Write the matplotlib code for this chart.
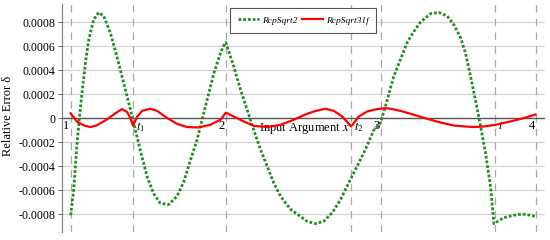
#Relative error of reciprocal square root approximations
import matplotlib
matplotlib.use("Agg")
import matplotlib.pyplot as plt

plt.rcParams['font.family'] = ['Liberation Serif', 'DejaVu Serif']
plt.rcParams['mathtext.fontset'] = 'stix'

#datos
green_x = [1.000, 1.019, 1.041, 1.056, 1.073, 1.095, 1.116, 1.148, 1.180, 1.213, 1.256, 1.299,
           1.342, 1.385, 1.406, 1.449, 1.493, 1.535, 1.578, 1.632, 1.686, 1.729, 1.772, 1.815,
           1.847, 1.879, 1.922, 1.965, 1.985, 2.000, 2.051, 2.094, 2.137, 2.180, 2.223, 2.266,
           2.309, 2.352, 2.417, 2.481, 2.524, 2.578, 2.631, 2.685, 2.739, 2.792, 2.847, 2.900,
           2.954, 2.997, 3.040, 3.083, 3.126, 3.169, 3.211, 3.255, 3.319, 3.373, 3.427, 3.469,
           3.513, 3.545, 3.577, 3.609, 3.642, 3.674, 3.706, 3.728, 3.792, 3.856, 3.910, 3.964,
           3.996]
green_y = [-8.1, -6.0, -2.1, 0.0, 2.1, 4.6, 6.5, 8.2, 8.8, 8.5, 7.1, 5.1,
           2.9, 0.7, -0.4, -2.7, -4.9, -6.3, -7.1, -7.2, -6.5, -5.3, -3.5, -1.8,
           -0.1, 1.5, 3.7, 5.4, 6.0, 6.3, 4.3, 2.4, 0.7, -1.0, -2.6, -4.0,
           -5.4, -6.5, -7.6, -8.2, -8.6, -8.8, -8.6, -7.9, -6.8, -5.4, -4.0, -2.6,
           -1.0, -0.4, 1.5, 3.5, 4.9, 6.3, 7.2, 8.0, 8.7, 8.8, 8.5, 7.8,
           6.7, 5.4, 3.5, 1.5, -0.7, -2.9, -5.7, -8.8, -8.3, -8.1, -8.0, -8.1,
           -8.2]
red_x = [1.000, 1.041, 1.084, 1.127, 1.170, 1.235, 1.288, 1.331, 1.364, 1.385, 1.402, 1.428,
         1.460, 1.514, 1.557, 1.622, 1.686, 1.750, 1.825, 1.900, 1.965, 2.000, 2.051, 2.115,
         2.180, 2.266, 2.352, 2.438, 2.513, 2.567, 2.642, 2.696, 2.750, 2.808, 2.857, 2.911,
         2.976, 3.029, 3.061, 3.126, 3.211, 3.298, 3.384, 3.469, 3.545, 3.598, 3.663, 3.738,
         3.835, 3.921, 3.996]
red_y = [4.0, -3.0, -6.0, -7.5, -6.0, -1.0, 4.0, 7.5, 5.0, 0.0, -6.5, 1.0,
         6.0, 7.8, 6.0, 0.0, -4.8, -7.5, -7.8, -5.6, -1.4, 4.5, 1.3, -2.8,
         -6.4, -7.5, -5.6, -1.4, 3.0, 5.5, 7.8, 6.0, 1.3, -7.0, 1.3, 5.5,
         7.5, 8.3, 7.8, 6.0, 2.8, -0.6, -3.7, -6.2, -7.0, -7.5, -7.0, -5.6,
         -2.8, 0.0, 3.0]
green_y = [v * 1e-4 for v in green_y]
red_y = [v * 1e-5 for v in red_y]

num_ticks = [1, 2, 3, 4]
t_pos = [1.402, 2.808, 3.736]
t_labels = ['$t_1$', '$t_2$', '$t$']
y_ticks = [-0.0008, -0.0006, -0.0004, -0.0002, 0, 0.0002, 0.0004, 0.0006, 0.0008]
y_labels = ['-0.0008', '-0.0006', '-0.0004', '-0.0002', '0', '0.0002', '0.0004', '0.0006', '0.0008']

fig = plt.figure(figsize=(5.5, 2.4), dpi=100)
ax = fig.add_axes([0.113, 0.033, 0.877, 0.95])

#grilla y lineas verticales
for v in y_ticks:
    if v != 0:
        ax.axhline(v, color='#cfcfcf', lw=0.8, zorder=0)
ax.axhline(0, color='#555555', lw=1.0, zorder=1)
for v in num_ticks + t_pos:
    ax.axvline(v, color='#a8a8a8', lw=0.9, ls=(0, (6, 5)), zorder=0)

#graficar
ax.plot(green_x, green_y, color='#1f8f1f', lw=2.0, ls=(0, (1, 0.7)), label='RcpSqrt2', zorder=3)
ax.plot(red_x, red_y, color='#ff0000', lw=1.6, label='RcpSqrt31f', zorder=4)

ax.set_xlim(0.945, 4.054)
ax.set_ylim(-0.00095, 0.00095)
ax.set_yticks(y_ticks)
ax.set_yticklabels(y_labels, fontsize=8.6)
ax.set_xticks([])
ax.tick_params(axis='y', length=3, width=0.8, color='#777777', pad=2)
for s in ['top', 'right', 'bottom']:
    ax.spines[s].set_visible(False)
ax.spines['left'].set_color('#777777')
ax.set_ylabel('Relative Error δ', fontsize=9)
ax.yaxis.set_label_coords(-0.1, 0.51)

#etiquetas sobre el eje
for v in num_ticks:
    ax.annotate(str(v), (v, 0), xytext=(-1, -1.5), textcoords='offset points',
                ha='right', va='top', fontsize=9)
for v, lab in zip(t_pos, t_labels):
    ax.annotate(lab, (v, 0), xytext=(2, -1.5), textcoords='offset points',
                ha='left', va='top', fontsize=9)
ax.annotate('Input Argument $x$', (2.51, 0), xytext=(0, -2), textcoords='offset points',
            ha='center', va='top', fontsize=9)

leg = ax.legend(loc='upper center', bbox_to_anchor=(0.5, 0.995), ncol=2,
                prop={'style': 'italic', 'size': 6.8}, fancybox=False, framealpha=1,
                edgecolor='#555555', handlelength=2.2, columnspacing=0.5, borderpad=0.85,
                handletextpad=0.3, borderaxespad=0.3)
leg.get_frame().set_linewidth(0.8)

plt.savefig('out.png', dpi=100)
